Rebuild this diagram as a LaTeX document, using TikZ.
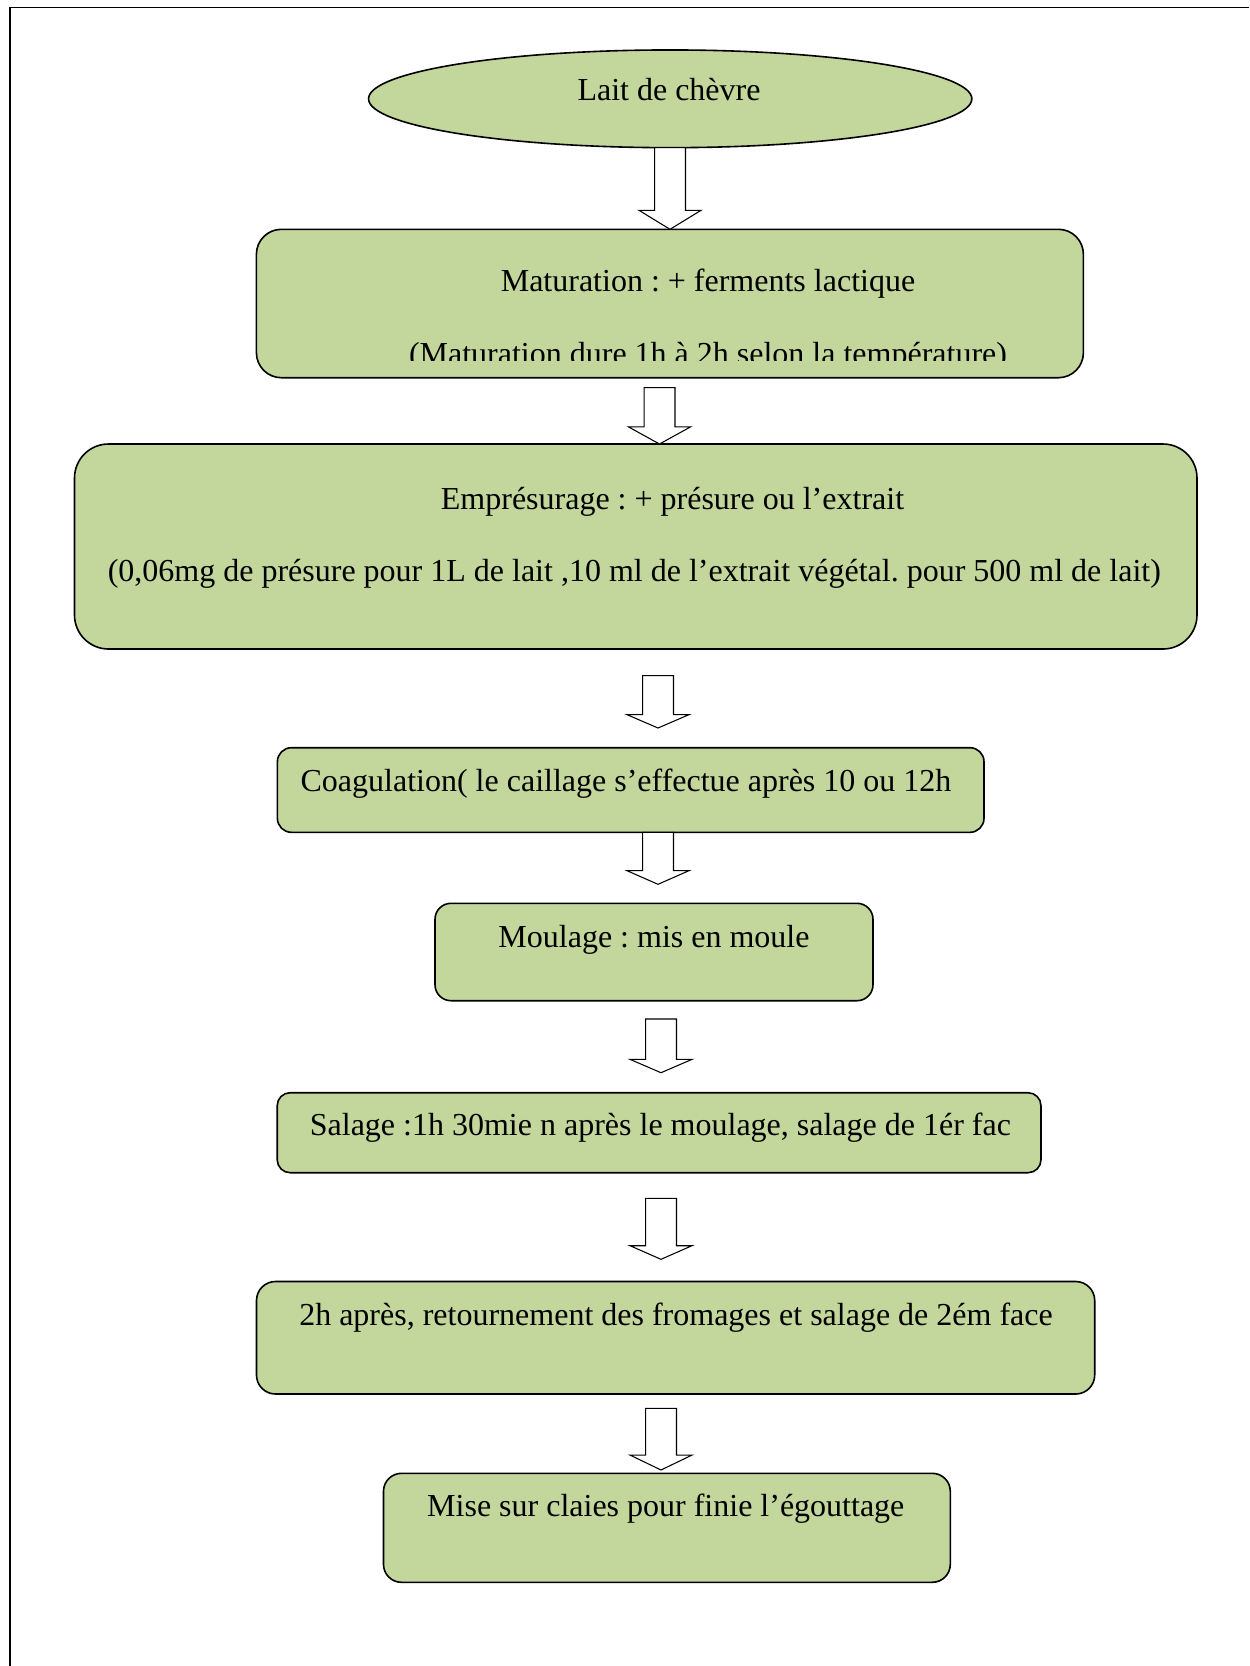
\documentclass[tikz,border=0pt]{standalone}
\usepackage{fontspec}
\setmainfont{Liberation Serif}
\usetikzlibrary{fit,shapes.geometric}
\definecolor{boxgreen}{HTML}{C3D69B}
\frenchspacing
\def\sw{5.8pt}
\def\hw{11.6pt}
\newcommand\blockarr[3]{%
  \draw[arrowshape] ([xshift=-\sw]#1) -- ([xshift=\sw]#1) -- ([xshift=\sw,yshift=#3]#2) -- ([xshift=\hw,yshift=#3]#2) -- (#2) -- ([xshift=-\hw,yshift=#3]#2) -- ([xshift=-\sw,yshift=#3]#2) -- cycle;}
\begin{document}
\begin{tikzpicture}[x=0.375pt,y=-0.375pt,
  box/.style={draw=black,line width=0.6pt,fill=boxgreen,inner sep=0pt},
  txt/.style={inner sep=0pt,anchor=base,font=\frenchspacing\fontsize{12pt}{14.4pt}\selectfont},
  arrowshape/.style={draw=black,line width=0.4pt,fill=white,line join=miter}]
\useasboundingbox (0,0) rectangle (1249,1666);
\fill[white] (0,0) rectangle (1249,1666);
% frame
\draw[line width=0.6pt] (10,1666) -- (10,7.5) -- (1249,7.5);
% shapes
\node[box,ellipse,minimum width=603.3*0.375pt,minimum height=97.7*0.375pt] (lait) at (670.2,98.8) {};
\node[box,rounded corners=25*0.375pt,fit={(256.4,229.3) (1083.4,377.7)}] (mat) {};
\node[box,rounded corners=34*0.375pt,fit={(74.5,444) (1197,649)}] (emp) {};
\node[box,rounded corners=14*0.375pt,fit={(277.4,747.7) (984,832.3)}] (coa) {};
\node[box,rounded corners=16*0.375pt,fit={(435,903.3) (873,1000.7)}] (mou) {};
\node[box,rounded corners=13*0.375pt,fit={(277.2,1092.7) (1041,1172.7)}] (sal) {};
\node[box,rounded corners=19*0.375pt,fit={(256.5,1281.5) (1094.7,1394)}] (deux) {};
\node[box,rounded corners=18*0.375pt,fit={(383.5,1473.3) (950.3,1582.3)}] (mise) {};
% texts
\node[txt] (tlait) at (669,100) {Lait de chèvre};
\node[txt] (tmat1) at (708,291) {Maturation : + ferments lactique};
\begin{scope}
\clip (256,229) rectangle (1084,360);
\node[txt] (tmat2) at (708,364) {(Maturation dure 1h à 2h selon la température)};
\end{scope}
\node[txt] (temp1) at (672.5,509) {Empr\'esurage : + pr\'esure ou l’extrait};
\node[txt] (temp2) at (634.3,581.7) {(0,06mg de pr\'esure pour 1L de lait ,10 ml de l’extrait v\'eg\'etal. pour 500 ml de lait)};
\node[txt] (tcoa) at (626,791) {Coagulation( le caillage s’effectue apr\`es 10 ou 12h};
\node[txt] (tmou) at (654,947.3) {Moulage : mis en moule};
\node[txt] (tsal) at (660.4,1135) {Salage :1h 30mie n apr\`es le moulage, salage de 1\'er fac};
\node[txt] (tdeux) at (676,1325) {2h apr\`es, retournement des fromages et salage de 2\'em face};
\node[txt] (tmise) at (665.8,1516.7) {Mise sur claies pour finie l’\'egouttage};
% arrow end points
\coordinate (a1s) at (670,147.6);   \coordinate (a1e) at (670,229.3);
\coordinate (a2s) at (659.5,387.7); \coordinate (a2e) at (659.5,444);
\coordinate (a3s) at (658,675.7);   \coordinate (a3e) at (658,728);
\coordinate (a4s) at (658,832.3);   \coordinate (a4e) at (658,884.3);
\coordinate (a5s) at (661,1019);    \coordinate (a5e) at (661,1072.7);
\coordinate (a6s) at (661,1198.3);  \coordinate (a6e) at (661,1259.3);
\coordinate (a7s) at (661,1408.3);  \coordinate (a7e) at (661,1470);
\blockarr{a1s}{a1e}{7.1pt}
\blockarr{a2s}{a2e}{6.4pt}
\blockarr{a3s}{a3e}{5.0pt}
\blockarr{a4s}{a4e}{5.1pt}
\blockarr{a5s}{a5e}{5.0pt}
\blockarr{a6s}{a6e}{5.1pt}
\blockarr{a7s}{a7e}{5.6pt}
\end{tikzpicture}
\end{document}
